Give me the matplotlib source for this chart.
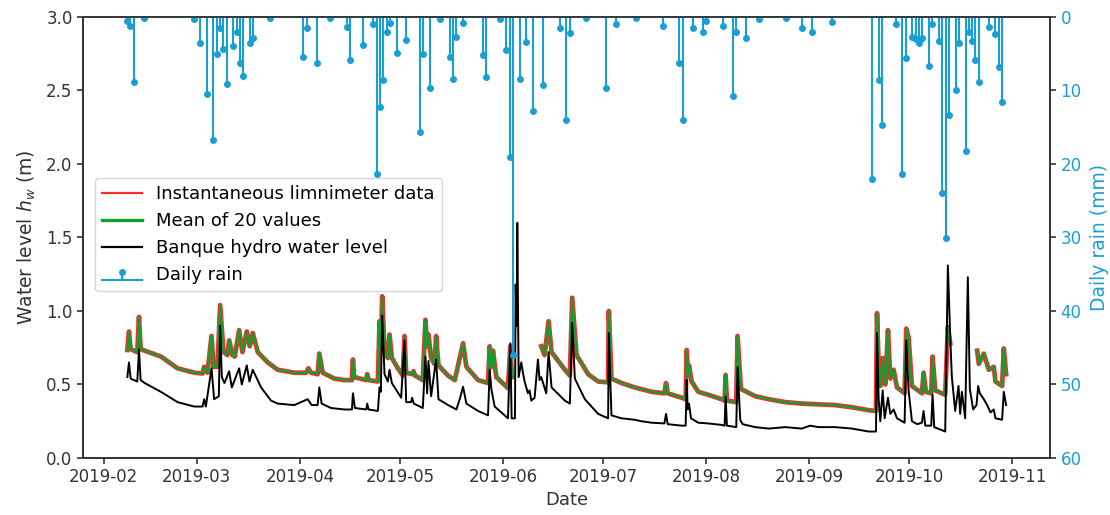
import numpy as np
import pandas as pd
import matplotlib
matplotlib.use("Agg")
import matplotlib.pyplot as plt
import matplotlib.dates as mdates
from matplotlib.lines import Line2D

plt.rcParams['font.family'] = ['DejaVu Sans']

START = pd.Timestamp('2019-02-01')

# Limnimeter water level (m): time in days after 2019-02-01, NaN = missing data
lim_t = [7.1, 7.6, 8.1, 10.1, 10.6, 11.1, 17.2, 22.2, 27.2, 29.7, 30.2, 31.2, 32.4, 33.0, 34.2,
         35.0, 36.0, 37.2, 37.7, 38.7, 39.4, 40.7, 41.7, 43.0, 43.9, 44.8, 46.3, 49.3, 52.3,
         57.3, 60.8, 61.5, 62.3, 64.3, 64.8, 65.8, 69.3, 72.3, 74.6, 74.9, 75.3, 78.9, 79.2,
         79.6, 82.4, 82.9, 83.3, 83.7, 84.4, 85.4, 85.9, 86.6, 88.4, 89.9, 90.4, 90.9, 92.7,
         93.1, 93.6, 95.9, 96.7, 97.2, 97.6, 98.4, 99.4, 99.9, 100.6, 103.5, 105.5, 106.5,
         108.0, 109.0, 112.5, 115.5, 116.0, 116.5, 117.0, 118.0, 121.5, 122.2, 122.7, 127.0,
         131.5, 132.5, 133.7, 134.6, 138.6, 140.1, 140.8, 142.1, 145.6, 148.6, 151.6, 151.8,
         152.6, 155.6, 159.6, 164.7, 168.5, 169.0, 169.5, 173.7, 174.9, 175.2, 175.6, 175.9,
         176.7, 178.7, 181.7, 185.7, 186.6, 186.9, 187.3, 190.1, 190.5, 191.5, 195.8, 199.8,
         204.8, 209.8, 214.8, 219.8, 224.9, 229.9, 232.1, 232.4, 232.9, 233.4, 234.1, 234.9,
         235.7, 236.4, 237.4, 238.4, 240.7, 241.2, 241.9, 242.9, 245.9, 246.4, 247.1, 248.7,
         249.1, 249.9, 252.9, 253.7, 254.4, 258.0, 262.5, 263.0, 264.5, 266.0, 267.5, 268.0,
         270.0, 270.5, 271.2]
lim_v = [0.735, 0.86, 0.74, 0.72, 0.96, 0.74, 0.69, 0.61, 0.58, 0.575, 0.62, 0.58, 0.83, 0.62,
         0.62, 1.04, 0.72, 0.70, 0.80, 0.70, 0.69, 0.87, 0.72, 0.86, 0.76, 0.85, 0.72, 0.65,
         0.60, 0.58, 0.58, 0.61, 0.58, 0.57, 0.71, 0.58, 0.54, 0.53, 0.53, 0.67, 0.55, 0.53,
         0.57, 0.53, 0.52, 0.93, 0.75, 1.10, 0.72, 0.68, 0.84, 0.68, 0.61, 0.56, 0.83, 0.58,
         0.57, 0.59, 0.56, 0.53, 0.94, 0.76, 0.84, 0.68, 0.64, 0.83, 0.63, 0.56, 0.53, 0.63,
         0.78, 0.62, 0.53, 0.51, 0.76, 0.62, 0.73, 0.55, 0.475, 0.76, 0.55, np.nan,
         0.76, 0.70, 0.93, 0.72, 0.60, 0.56, 1.09, 0.70, 0.57, 0.52, 0.515, 1.00,
         0.54, 0.51, 0.48, 0.45, 0.44, 0.51, 0.44, 0.41, 0.40, 0.735, 0.58, 0.63,
         0.52, 0.45, 0.43, 0.40, 0.39, 0.565, 0.39, 0.38, 0.83, 0.47, 0.42, 0.40,
         0.38, 0.37, 0.365, 0.36, 0.345, 0.325, 0.32, 0.985, 0.62, 0.49, 0.68, 0.50,
         0.87, 0.54, 0.60, 0.48, 0.44, 0.88, 0.82, 0.49, 0.44, 0.58, 0.45, 0.44,
         0.69, 0.46, 0.43, 0.89, 0.78, np.nan, 0.73, 0.64, 0.71, 0.60, 0.62, 0.52,
         0.49, 0.745, 0.57]

# Banque hydro water level (m)
hyd_t = [7.1, 7.6, 8.1, 10.1, 10.6, 11.1, 12.3, 17.2, 22.2, 27.2, 29.7, 30.2, 30.7, 32.4, 33.2,
         34.6, 35.0, 35.5, 36.3, 37.7, 38.5, 40.7, 41.5, 43.0, 43.8, 44.8, 47.3, 50.3, 52.3,
         57.3, 61.3, 62.5, 64.3, 64.8, 65.5, 68.3, 72.3, 74.6, 74.9, 75.5, 78.9, 79.2, 79.6,
         82.4, 82.9, 83.3, 83.7, 84.4, 85.4, 85.9, 86.6, 89.4, 90.4, 90.9, 92.4, 92.7, 93.2,
         95.9, 96.7, 97.2, 97.6, 98.4, 99.9, 100.6, 103.5, 106.0, 107.0, 108.0, 109.0, 112.5,
         115.5, 116.0, 116.5, 117.5, 121.5, 122.2, 122.6, 123.6, 123.8, 124.1, 124.3, 124.7,
         125.5, 126.0, 126.5, 127.5, 128.0, 128.5, 129.5, 130.5, 131.0, 131.5, 133.0, 133.7,
         134.6, 138.6, 140.1, 140.8, 141.6, 144.6, 148.6, 151.6, 151.8, 152.6, 155.6, 159.6,
         161.6, 164.7, 168.5, 169.0, 169.5, 173.7, 174.9, 175.2, 175.5, 175.9, 176.5, 178.7,
         181.7, 185.7, 186.6, 186.9, 187.3, 190.1, 190.5, 191.3, 192.0, 195.8, 199.8, 204.8,
         209.8, 212.3, 214.8, 219.8, 224.9, 229.9, 232.1, 232.4, 232.9, 233.4, 234.1, 234.7,
         235.7, 236.4, 237.4, 238.4, 240.7, 241.2, 241.9, 242.9, 244.5, 245.9, 246.4, 246.9,
         248.7, 249.1, 249.6, 252.9, 253.7, 254.4, 254.9, 255.9, 256.9, 257.4, 257.9, 258.9,
         259.7, 260.3, 261.3, 262.3, 262.8, 263.3, 264.5, 265.5, 266.5, 267.5, 268.0, 270.0,
         270.5, 271.2]
hyd_v = [0.55, 0.65, 0.54, 0.52, 0.74, 0.53, 0.51, 0.45, 0.38, 0.35, 0.35, 0.40, 0.35, 0.61, 0.40,
         0.42, 0.90, 0.55, 0.51, 0.59, 0.48, 0.61, 0.50, 0.63, 0.52, 0.60, 0.48, 0.39, 0.37,
         0.36, 0.40, 0.36, 0.36, 0.48, 0.37, 0.34, 0.33, 0.33, 0.44, 0.34, 0.33, 0.37, 0.33,
         0.32, 0.48, 0.45, 0.97, 0.57, 0.52, 0.60, 0.51, 0.41, 0.80, 0.38, 0.38, 0.41, 0.37,
         0.34, 0.69, 0.44, 0.66, 0.42, 0.67, 0.40, 0.36, 0.33, 0.40, 0.485, 0.37, 0.32,
         0.29, 0.60, 0.47, 0.35, 0.27, 0.78, 0.27, 0.27, 1.18, 0.90, 1.60, 0.55,
         0.65, 0.58, 0.52, 0.44, 0.46, 0.39, 0.41, 0.67, 0.53, 0.55, 0.44, 0.72,
         0.48, 0.39, 0.37, 0.92, 0.54, 0.40, 0.30, 0.27, 0.85, 0.29, 0.27, 0.26,
         0.25, 0.24, 0.235, 0.30, 0.23, 0.22, 0.22, 0.53, 0.33, 0.37, 0.27, 0.24,
         0.235, 0.225, 0.22, 0.42, 0.22, 0.21, 0.62, 0.26, 0.23, 0.21, 0.20, 0.21,
         0.20, 0.22, 0.21, 0.21, 0.20, 0.18, 0.18, 0.85, 0.40, 0.25, 0.46, 0.27,
         0.41, 0.30, 0.33, 0.27, 0.24, 0.80, 0.46, 0.25, 0.23, 0.24, 0.32, 0.22,
         0.22, 0.43, 0.21, 0.18, 1.31, 0.83, 0.55, 0.32, 0.49, 0.30, 0.45, 0.27,
         1.23, 0.47, 0.33, 0.36, 0.49, 0.44, 0.40, 0.36, 0.31, 0.33, 0.27, 0.26,
         0.45, 0.36]

# Daily rain (mm): day after 2019-02-01
rain_day = [7, 8, 9, 12, 27, 29, 31, 33, 34, 35, 36, 37, 39, 40, 41, 42, 44, 45, 50, 60, 61, 64,
            68, 73, 74, 78, 81, 82, 83, 84, 85, 86, 88, 91, 95, 96, 98, 101, 104, 105, 106, 108,
            114, 115, 119, 121, 122, 123, 125, 127, 129, 132, 137, 139, 140, 145, 151, 154, 160,
            168, 173, 174, 177, 180, 181, 186, 189, 190, 193, 197, 205, 210, 213, 219, 231, 233,
            234, 238, 240, 241, 243, 244, 245, 246, 248, 249, 251, 252, 253, 254, 256, 257, 259,
            260, 261, 262, 263, 266, 268, 269, 270]
rain_mm = [0.6, 1.2, 8.8, 0.2, 0.3, 3.5, 10.5, 16.7, 5.1, 1.5, 4.3, 9.1, 4.0, 2.0, 6.2, 8.0, 3.6,
           2.9, 0.2, 5.5, 1.5, 6.2, 0.2, 1.3, 5.9, 3.8, 0.9, 21.3, 12.3, 8.6, 2.0, 0.8, 4.9, 3.1,
           15.6, 5.0, 9.7, 0.3, 5.4, 8.5, 2.7, 0.8, 5.2, 8.2, 0.3, 4.5, 19.0, 46.0, 8.5, 3.4,
           12.8, 9.3, 1.5, 14.0, 2.2, 0.2, 9.7, 1.0, 0.2, 1.2, 6.3, 14.0, 1.5, 2.0, 0.5, 1.2,
           10.7, 2.0, 2.8, 0.3, 0.2, 1.5, 2.1, 0.7, 22.0, 8.6, 14.7, 1.0, 21.4, 5.6, 2.7, 3.0,
           3.5, 2.9, 6.6, 1.0, 3.2, 24.0, 30.1, 13.3, 9.9, 3.5, 18.2, 2.0, 3.2, 5.9, 8.9, 1.3,
           2.3, 6.8, 11.5]

labels = ['Instantaneous limnimeter data', 'Mean of 20 values',
          'Banque hydro water level', 'Daily rain']


def to_dates(days):
    return START + pd.to_timedelta(np.asarray(days, dtype=float), unit='D')


RED = '#ff2a2a'
GREEN = '#10a030'
BLUE = '#1a9fd4'
DARK = '#333333'

fig = plt.figure(figsize=(11.1, 5.15), dpi=100)
ax = fig.add_axes([0.0748, 0.1107, 0.8712, 0.8563])

lim_dates = to_dates(lim_t)
ax.plot(lim_dates, lim_v, color=RED, lw=3.4, solid_joinstyle='round', zorder=2)
ax.plot(lim_dates, lim_v, color=GREEN, lw=1.7, zorder=3)
ax.plot(to_dates(hyd_t), hyd_v, color='black', lw=1.4, zorder=4)

ax.set_ylim(0, 3.0)
ax.set_yticks(np.arange(0, 3.01, 0.5))
ax.set_ylabel('Water level $h_w$ (m)', fontsize=13.5, color=DARK, labelpad=6)
ax.set_xlabel('Date', fontsize=13, color=DARK, labelpad=3)
ax.tick_params(axis='both', labelsize=12, colors=DARK, width=1.2, length=4)

ax.xaxis.set_major_locator(mdates.MonthLocator())
ax.xaxis.set_major_formatter(mdates.DateFormatter('%Y-%m'))

ax2 = ax.twinx()
stem = ax2.stem(to_dates(rain_day), rain_mm)
markerline, stemlines, baseline = stem
plt.setp(stemlines, color=BLUE, linewidth=1.5)
plt.setp(markerline, color=BLUE, markersize=4)
plt.setp(baseline, color=BLUE, linewidth=1.5)
ax2.set_ylim(60, 0)
ax2.set_yticks(np.arange(0, 61, 10))
ax2.set_ylabel('Daily rain (mm)', fontsize=13.5, color=BLUE, labelpad=6)
ax2.tick_params(axis='y', labelsize=12, colors=DARK, labelcolor=BLUE, width=1.2, length=4)

for a in (ax, ax2):
    for s in a.spines.values():
        s.set_color('#333333')
        s.set_linewidth(1.2)

handles = [Line2D([], [], color=RED, lw=1.6),
           Line2D([], [], color=GREEN, lw=2.4),
           Line2D([], [], color='black', lw=1.6),
           stem]
leg = ax2.legend(handles, labels, loc='upper left', bbox_to_anchor=(0.0124, 0.635),
                 borderaxespad=0, fontsize=13, frameon=True, handlelength=2.2)
leg.get_frame().set_edgecolor('#cccccc')

fig.savefig('out.png', dpi=100)
